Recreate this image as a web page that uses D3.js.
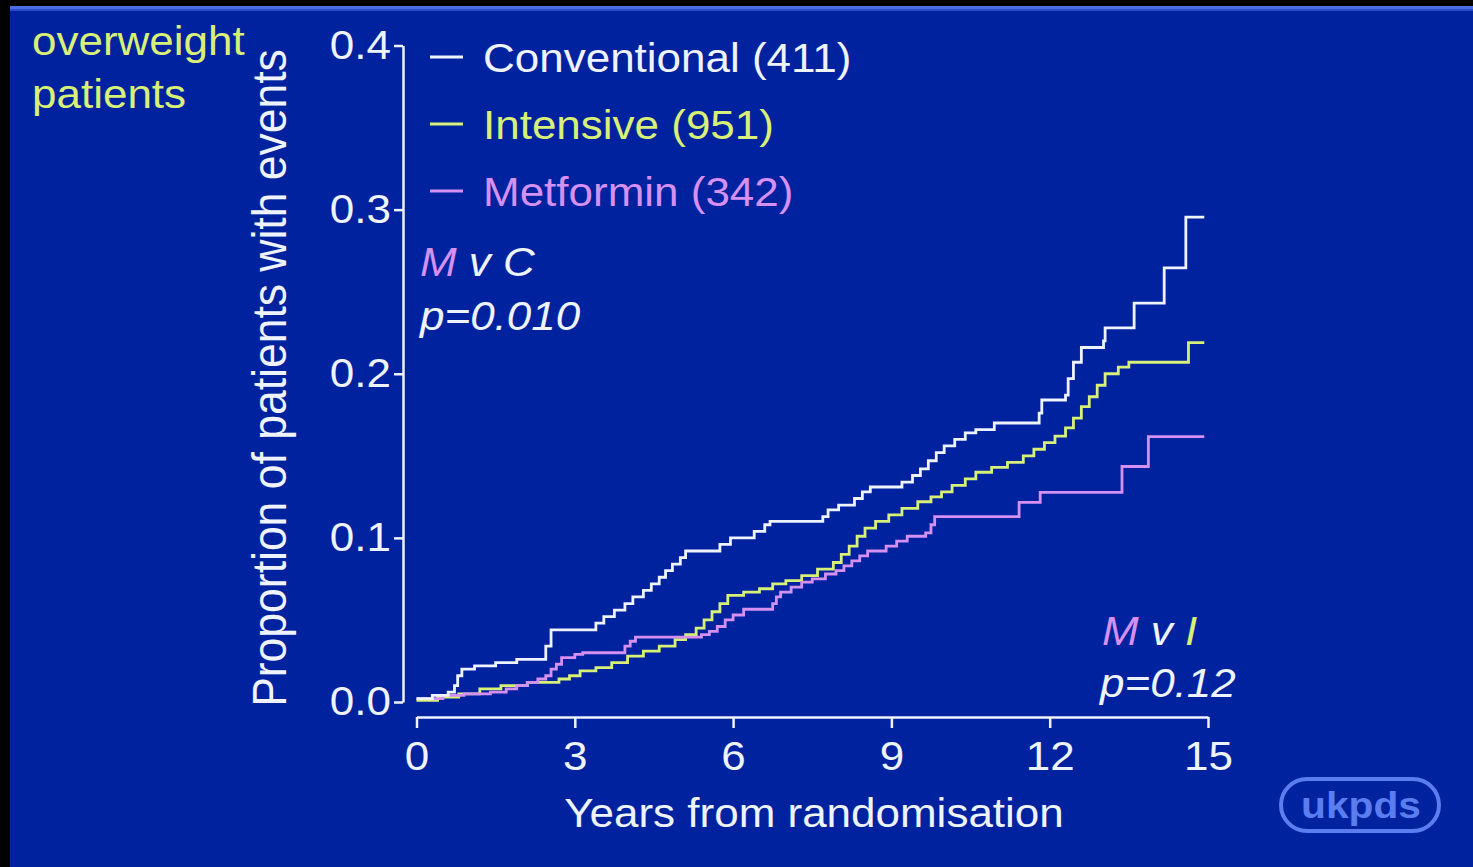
<!DOCTYPE html>
<html><head><meta charset="utf-8">
<script src="https://cdn.jsdelivr.net/npm/d3@7"></script>
<style>
html,body{margin:0;padding:0;background:#000;}
svg{display:block;}
text{font-family:"Liberation Sans",Arial,sans-serif;}
</style></head>
<body>
<svg id="chart" width="1473" height="867"></svg>
<script>
// ---------- data ----------
const seriesNames = ["Conventional (411)", "Intensive (951)", "Metformin (342)"];
const xTicks = [0, 3, 6, 9, 12, 15];
const yTicks = [0.0, 0.1, 0.2, 0.3, 0.4];
// Kaplan-Meier style step points: [years, proportion with events]
const conventional = [
  [0,0.002],[0.3,0.004],[0.6,0.006],[0.72,0.010],[0.78,0.016],[0.86,0.020],[1.1,0.022],[1.5,0.024],[1.9,0.026],
  [2.45,0.034],[2.55,0.044],[3.4,0.048],[3.55,0.052],[3.75,0.056],[3.95,0.060],[4.1,0.064],[4.3,0.068],[4.45,0.072],
  [4.6,0.076],[4.72,0.080],[4.85,0.084],[5.0,0.088],[5.1,0.092],[5.75,0.096],[5.95,0.100],[6.4,0.104],[6.6,0.108],
  [6.7,0.110],[7.7,0.113],[7.8,0.117],[8.0,0.120],[8.3,0.124],[8.45,0.128],[8.6,0.131],[9.2,0.134],[9.4,0.138],
  [9.55,0.142],[9.7,0.147],[9.85,0.152],[10.0,0.156],[10.2,0.160],[10.4,0.164],[10.6,0.166],[10.95,0.170],
  [11.8,0.176],[11.85,0.184],[12.3,0.187],[12.35,0.197],[12.45,0.207],[12.6,0.216],[13.02,0.220],[13.05,0.228],
  [13.6,0.243],[14.17,0.2645],[14.58,0.2954],[14.93,0.2954]
];
const intensive = [
  [0,0.001],[0.4,0.003],[0.8,0.005],[1.2,0.008],[1.6,0.010],[2.1,0.012],[2.7,0.014],[2.9,0.016],[3.1,0.019],
  [3.4,0.021],[3.7,0.024],[4.0,0.028],[4.3,0.031],[4.6,0.034],[4.9,0.038],[5.1,0.041],[5.3,0.045],[5.45,0.050],
  [5.6,0.055],[5.75,0.060],[5.9,0.065],[6.2,0.067],[6.5,0.069],[6.75,0.072],[7.0,0.074],[7.3,0.077],[7.6,0.081],
  [7.9,0.085],[8.05,0.090],[8.2,0.095],[8.35,0.101],[8.5,0.106],[8.7,0.110],[8.95,0.114],[9.2,0.118],[9.5,0.122],
  [9.75,0.125],[9.95,0.128],[10.15,0.132],[10.4,0.136],[10.6,0.140],[10.9,0.143],[11.2,0.146],[11.5,0.150],
  [11.7,0.154],[11.9,0.158],[12.1,0.162],[12.3,0.167],[12.45,0.173],[12.6,0.180],[12.75,0.186],[12.9,0.193],
  [13.05,0.200],[13.3,0.204],[13.5,0.207],[14.63,0.219],[14.93,0.219]
];
const metformin = [
  [0,0.002],[0.5,0.004],[0.9,0.005],[1.4,0.006],[1.7,0.008],[1.9,0.010],[2.1,0.012],[2.3,0.014],[2.45,0.016],
  [2.55,0.020],[2.65,0.023],[2.75,0.027],[3.0,0.029],[3.15,0.030],[3.95,0.034],[4.05,0.037],[4.15,0.0395],
  [5.4,0.041],[5.55,0.043],[5.7,0.046],[5.85,0.050],[6.0,0.053],[6.2,0.0565],[6.75,0.060],[6.82,0.064],[6.9,0.067],
  [7.1,0.070],[7.3,0.073],[7.5,0.075],[7.75,0.078],[7.95,0.080],[8.1,0.083],[8.25,0.086],[8.4,0.089],[8.55,0.092],
  [8.9,0.095],[9.1,0.098],[9.3,0.101],[9.65,0.103],[9.75,0.108],[9.82,0.113],[11.42,0.1216],[11.82,0.1277],
  [13.37,0.1435],[13.87,0.1617],[14.93,0.1617]
];

// ---------- styling ----------
const BG = "#00229e", WHITE = "#eef3ff", YEL = "#d8ef78", PINK = "#d690f2", LOGO = "#5a7ef0";
const SX = 1.1; // horizontal stretch of the slide text
const FS = 40;

const svg = d3.select("#chart");
svg.append("rect").attr("width",1473).attr("height",867).attr("fill","#000");
svg.append("rect").attr("x",10).attr("y",6).attr("width",1463).attr("height",861).attr("fill",BG);
svg.append("rect").attr("x",10).attr("y",6).attr("width",1463).attr("height",3).attr("fill","#4a6ee6");
svg.append("rect").attr("x",10).attr("y",9).attr("width",1463).attr("height",2).attr("fill","#2a4cc8");

const x = d3.scaleLinear().domain([0,15]).range([416.5,1208]);
const y = d3.scaleLinear().domain([0,0.4]).range([702,45.5]);

function stext(px, py, str, o={}) {
  const t = svg.append("text")
    .attr("transform", `translate(${px},${py}) scale(${o.sx||SX},1)`)
    .attr("font-size", o.fs||FS)
    .attr("fill", o.fill||WHITE)
    .attr("text-anchor", o.anchor||"start");
  if (o.italic) t.attr("font-style","italic");
  if (o.bold) t.attr("font-weight","bold");
  return t.text(str);
}

// axes
const yAxis = d3.axisLeft(y).tickValues(yTicks).tickFormat(d3.format(".1f")).tickSize(9).tickSizeOuter(0).tickPadding(3);
const gy = svg.append("g").attr("transform","translate(403,0)").call(yAxis);
const xAxis = d3.axisBottom(x).tickValues(xTicks).tickFormat(d3.format("d")).tickSize(11).tickSizeOuter(0).tickPadding(14);
const gx = svg.append("g").attr("transform","translate(0,717)").call(xAxis);
[gy,gx].forEach(g=>{
  g.select(".domain").attr("stroke",WHITE).attr("stroke-width",2.5);
  g.selectAll(".tick line").attr("stroke",WHITE).attr("stroke-width",2.5);
  g.selectAll(".tick text").attr("fill",WHITE).attr("font-size",FS)
    .attr("font-family",'"Liberation Sans",Arial,sans-serif');
});
gy.selectAll(".tick text").attr("transform",`scale(${SX},1)`).attr("x",-12/SX);
gx.selectAll(".tick text").attr("transform",`scale(${SX},1)`);

// axis titles
svg.append("text")
  .attr("transform","translate(286,378) scale(1.08,1) rotate(-90)")
  .attr("text-anchor","middle").attr("font-size",44.5).attr("fill",WHITE)
  .text("Proportion of patients with events");
stext(814, 827, "Years from randomisation", {anchor:"middle"});

// curves
const line = d3.line().x(d=>x(d[0])).y(d=>y(d[1])).curve(d3.curveStepAfter);
const series = [
  {name:seriesNames[1], data:intensive, color:YEL},
  {name:seriesNames[2], data:metformin, color:PINK},
  {name:seriesNames[0], data:conventional, color:WHITE}
];
series.forEach(s=>{
  svg.append("path").datum(s.data).attr("d",line)
    .attr("fill","none").attr("stroke",s.color).attr("stroke-width",2.8)
    .attr("stroke-linejoin","miter");
});

// legend
const legend = [
  {name:seriesNames[0], color:WHITE},
  {name:seriesNames[1], color:YEL},
  {name:seriesNames[2], color:PINK}
];
legend.forEach((l,i)=>{
  const yy = 57 + i*67;
  svg.append("line").attr("x1",430).attr("x2",463).attr("y1",yy).attr("y2",yy)
    .attr("stroke",l.color).attr("stroke-width",3);
  stext(483, yy+15, l.name, {fill:l.color});
});

// subgroup label
stext(32, 55, "overweight", {fill:YEL});
stext(32, 108, "patients", {fill:YEL});

// p-value annotations
function pLabel(px, py, a, aCol, b, bCol) {
  const t = svg.append("text")
    .attr("transform",`translate(${px},${py}) scale(${SX},1)`)
    .attr("font-size",FS).attr("font-style","italic");
  t.append("tspan").attr("fill",aCol).text(a);
  t.append("tspan").attr("fill",WHITE).text(" v ");
  t.append("tspan").attr("fill",bCol).text(b);
}
pLabel(420, 276, "M", PINK, "C", WHITE);
stext(420, 330, "p=0.010", {italic:true});
pLabel(1102, 645, "M", PINK, "I", YEL);
stext(1100, 697, "p=0.12", {italic:true});

// ukpds logo
svg.append("rect").attr("x",1281).attr("y",779).attr("width",158).attr("height",52)
  .attr("rx",26).attr("fill","none").attr("stroke",LOGO).attr("stroke-width",4);
stext(1361, 818, "ukpds", {fill:LOGO, bold:true, fs:37, anchor:"middle"});
</script>
</body></html>
